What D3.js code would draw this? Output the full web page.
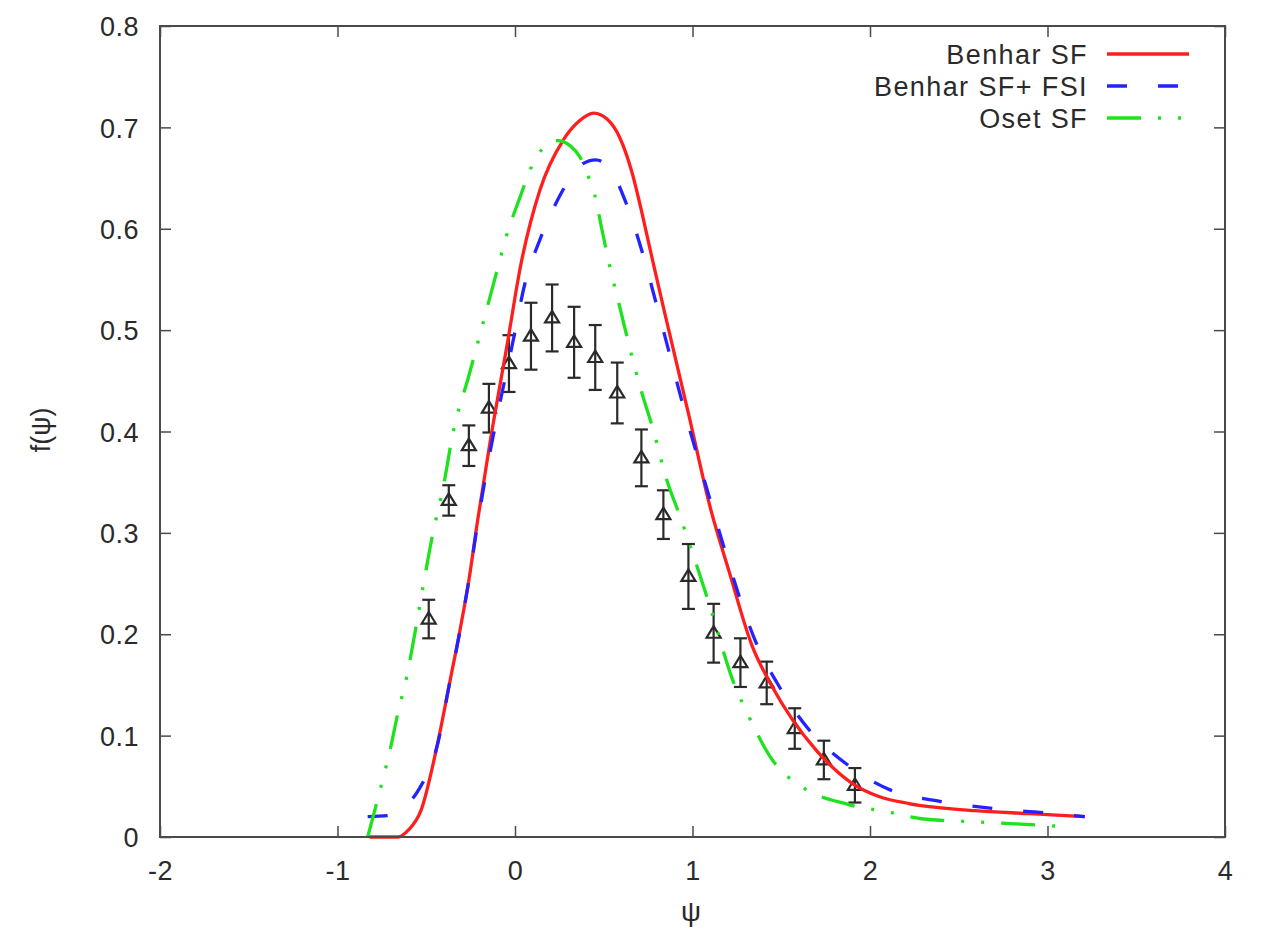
<!DOCTYPE html>
<html><head><meta charset="utf-8">
<script src="https://cdn.jsdelivr.net/npm/d3@7"></script>
<style>
body{margin:0;background:#fff}
svg text{font-family:"Liberation Sans",Arial,Helvetica,sans-serif;fill:#2a2a2a}
</style>
</head><body>
<svg id="chart" width="1261" height="935"></svg>
<script>
// ---- data ----
const xTicks = [-2, -1, 0, 1, 2, 3, 4];
const xTickLabels = ["-2", "-1", "0", "1", "2", "3", "4"];
const yTicks = [0, 0.1, 0.2, 0.3, 0.4, 0.5, 0.6, 0.7, 0.8];
const yTickLabels = ["0", "0.1", "0.2", "0.3", "0.4", "0.5", "0.6", "0.7", "0.8"];
const xLabel = "ψ";
const yLabel = "f(ψ)";
const seriesNames = ["Benhar SF", "Benhar SF+ FSI", "Oset SF"];

const benharX = [-0.82, -0.66, -0.6, -0.53, -0.44, -0.365, -0.31, -0.26, -0.21, -0.14, -0.04, 0.03, 0.14, 0.27, 0.36, 0.444, 0.52, 0.59, 0.66, 0.72, 0.78, 0.85, 0.981, 1.1, 1.206, 1.337, 1.45, 1.562, 1.7, 1.899, 2.05, 2.219, 2.59, 2.9, 3.21];
const benharY = [0, 0, 0.007, 0.026, 0.089, 0.155, 0.204, 0.253, 0.313, 0.39, 0.49, 0.562, 0.638, 0.687, 0.706, 0.714, 0.708, 0.690, 0.655, 0.612, 0.565, 0.512, 0.415, 0.325, 0.262, 0.188, 0.148, 0.116, 0.085, 0.053, 0.040, 0.033, 0.026, 0.023, 0.020];

const fsiX = [-0.83, -0.72, -0.64, -0.545, -0.43, -0.376, -0.32, -0.26, -0.21, -0.14, -0.01, 0.056, 0.14, 0.26, 0.35, 0.455, 0.55, 0.62, 0.72, 0.79, 0.87, 0.94, 1.02, 1.1, 1.17, 1.36, 1.49, 1.66, 1.86, 2.12, 2.4, 2.7, 2.98, 3.21];
const fsiY = [0.02, 0.021, 0.028, 0.046, 0.096, 0.145, 0.194, 0.253, 0.31, 0.38, 0.49, 0.546, 0.589, 0.635, 0.66, 0.668, 0.655, 0.628, 0.575, 0.53, 0.477, 0.43, 0.38, 0.332, 0.29, 0.191, 0.148, 0.105, 0.073, 0.046, 0.035, 0.028, 0.024, 0.020];

const osetX = [-0.83, -0.78, -0.70, -0.66, -0.61, -0.56, -0.52, -0.47, -0.40, -0.35, -0.26, -0.18, -0.107, -0.05, 0.028, 0.09, 0.146, 0.24, 0.31, 0.365, 0.41, 0.45, 0.49, 0.53, 0.59, 0.65, 0.71, 0.78, 0.85, 0.93, 1.02, 1.11, 1.22, 1.32, 1.45, 1.62, 1.88, 2.12, 2.29, 2.59, 2.82, 3.13];
const osetY = [0, 0.033, 0.089, 0.122, 0.158, 0.205, 0.245, 0.293, 0.349, 0.398, 0.455, 0.507, 0.555, 0.592, 0.631, 0.66, 0.677, 0.687, 0.682, 0.671, 0.653, 0.633, 0.599, 0.566, 0.523, 0.48, 0.441, 0.401, 0.355, 0.316, 0.27, 0.221, 0.158, 0.118, 0.076, 0.049, 0.032, 0.024, 0.018, 0.015, 0.013, 0.010];

const dataX = [-0.486, -0.373, -0.26, -0.147, -0.034, 0.09, 0.209, 0.333, 0.452, 0.576, 0.712, 0.836, 0.977, 1.119, 1.27, 1.418, 1.576, 1.74, 1.915];
const dataY = [0.215, 0.332, 0.386, 0.423, 0.467, 0.494, 0.512, 0.488, 0.473, 0.438, 0.374, 0.318, 0.257, 0.201, 0.172, 0.152, 0.107, 0.076, 0.051];
const dataErr = [0.019, 0.015, 0.02, 0.024, 0.028, 0.033, 0.033, 0.035, 0.032, 0.03, 0.028, 0.024, 0.032, 0.029, 0.024, 0.021, 0.02, 0.019, 0.017];

// ---- layout ----
const L = 160, R = 1225, T = 26, B = 837;
const svg = d3.select("#chart");
const x = d3.scaleLinear().domain([-2, 4]).range([L, R]);
const y = d3.scaleLinear().domain([0, 0.8]).range([B, T]);
const frameCol = "#4a4a4a";
const fontPx = "27px";

svg.append("rect").attr("width", 1261).attr("height", 935).attr("fill", "#fff");

// axes (inward ticks) + mirrors
const tickLen = 11;
const gx = svg.append("g").attr("transform", `translate(0,${B})`)
  .call(d3.axisBottom(x).tickValues(xTicks).tickSizeInner(-tickLen).tickSizeOuter(0).tickPadding(24).tickFormat((d, i) => xTickLabels[i]));
const gxt = svg.append("g").attr("transform", `translate(0,${T})`)
  .call(d3.axisTop(x).tickValues(xTicks).tickSizeInner(-tickLen).tickSizeOuter(0).tickFormat(""));
const gy = svg.append("g").attr("transform", `translate(${L},0)`)
  .call(d3.axisLeft(y).tickValues(yTicks).tickSizeInner(-tickLen).tickSizeOuter(0).tickPadding(21).tickFormat((d, i) => yTickLabels[i]));
const gyr = svg.append("g").attr("transform", `translate(${R},0)`)
  .call(d3.axisRight(y).tickValues(yTicks).tickSizeInner(-tickLen).tickSizeOuter(0).tickFormat(""));
[gx, gxt, gy, gyr].forEach(g => {
  g.select(".domain").remove();
  g.selectAll(".tick line").attr("stroke", frameCol).attr("stroke-width", 1.5);
  g.selectAll("text").style("font-size", fontPx).style("letter-spacing", "0.5px").attr("fill", "#2a2a2a");
});
gy.selectAll("text").attr("dy", "0.36em");
gx.selectAll("text").attr("dy", "0.71em");

// data with error bars
const pts = svg.append("g");
const cap = 6.5;
const ptCol = "#2a2a2a";
dataX.forEach((dx, i) => {
  const px = x(dx), py = y(dataY[i]);
  const y1 = y(dataY[i] + dataErr[i]), y0 = y(dataY[i] - dataErr[i]);
  pts.append("line").attr("x1", px).attr("x2", px).attr("y1", y1).attr("y2", y0).attr("stroke", ptCol).attr("stroke-width", 2.2);
  pts.append("line").attr("x1", px - cap).attr("x2", px + cap).attr("y1", y1).attr("y2", y1).attr("stroke", ptCol).attr("stroke-width", 2.2);
  pts.append("line").attr("x1", px - cap).attr("x2", px + cap).attr("y1", y0).attr("y2", y0).attr("stroke", ptCol).attr("stroke-width", 2.2);
  pts.append("path").attr("d", `M${px - 7},${py + 4.5}L${px + 7},${py + 4.5}L${px},${py - 7}Z`)
    .attr("fill", "none").attr("stroke", ptCol).attr("stroke-width", 2.2);
});

// curves
const line = d3.line().x(d => x(d[0])).y(d => y(d[1])).curve(d3.curveMonotoneX);
const series = [
  {xs: benharX, ys: benharY, color: "#ff1e1e", dash: null},
  {xs: fsiX, ys: fsiY, color: "#2323ff", dash: "20,31"},
  {xs: osetX, ys: osetY, color: "#1ee21e", dash: "34,17,3,17,3,17"}
];
series.forEach(s => {
  svg.append("path").attr("d", line(s.xs.map((v, i) => [v, s.ys[i]])))
    .attr("fill", "none").attr("stroke", s.color).attr("stroke-width", 3.3)
    .attr("stroke-dasharray", s.dash).attr("stroke-linejoin", "round");
});

// frame
svg.append("rect").attr("x", L).attr("y", T).attr("width", R - L).attr("height", B - T)
  .attr("fill", "none").attr("stroke", frameCol).attr("stroke-width", 2);

// legend
const legY = [54, 86, 118];
series.forEach((s, i) => {
  svg.append("text").attr("x", 1088).attr("y", legY[i]).attr("dy", "0.36em")
    .attr("text-anchor", "end").style("font-size", fontPx).style("letter-spacing", "1.4px").text(seriesNames[i]);
  svg.append("line").attr("x1", 1107).attr("x2", 1189).attr("y1", legY[i]).attr("y2", legY[i])
    .attr("stroke", s.color).attr("stroke-width", 3.3).attr("stroke-dasharray", s.dash);
});

// axis titles
svg.append("text").attr("x", 691).attr("y", 911).attr("dy", "0.36em").attr("text-anchor", "middle")
  .style("font-size", "28px").text(xLabel);
svg.append("text").attr("transform", "translate(40,430) rotate(-90)").attr("dy", "0.36em")
  .attr("text-anchor", "middle").style("font-size", "27px").text(yLabel);
</script>
</body></html>
